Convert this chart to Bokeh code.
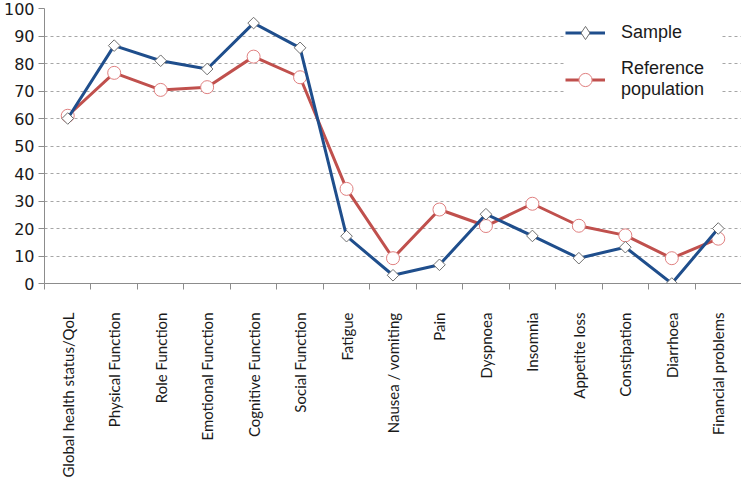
from bokeh.plotting import figure
from bokeh.models import Range1d, FixedTicker, Legend, LegendItem
from bokeh.embed import file_html
from bokeh.resources import INLINE
import math

categories = ["Global health status/QoL", "Physical Function", "Role Function",
              "Emotional Function", "Cognitive Function", "Social Function",
              "Fatigue", "Nausea / vomiting", "Pain", "Dyspnoea", "Insomnia",
              "Appetite loss", "Constipation", "Diarrhoea", "Financial problems"]
sample = [60, 86.5, 81, 78, 94.7, 85.7, 17.2, 3, 6.8, 25.2, 17.3, 9.2, 13.2, 0, 20]
reference = [61, 76.6, 70.4, 71.4, 82.5, 75, 34.4, 9.2, 26.9, 20.9, 29, 21, 17.5, 9.2, 16.3]
y_ticks = [0, 10, 20, 30, 40, 50, 60, 70, 80, 90, 100]

n = len(categories)
xs = [i + 0.5 for i in range(n)]

p = figure(width=741, height=480, output_backend="svg", toolbar_location=None,
           x_range=Range1d(0, n), y_range=Range1d(0, 100),
           min_border_left=44, min_border_right=0, min_border_top=8,
           min_border_bottom=197)
p.outline_line_color = None
p.background_fill_color = "white"

AX = "#8c8c8c"
TXT = "#1a1a1a"
# x axis
p.xaxis.ticker = FixedTicker(ticks=xs, minor_ticks=list(range(n + 1)))
p.xaxis.major_label_overrides = {x: c for x, c in zip(xs, categories)}
p.xaxis.major_label_orientation = math.pi / 2
p.xaxis.major_tick_out = 0
p.xaxis.major_tick_in = 0
p.xaxis.minor_tick_out = 6
p.xaxis.minor_tick_in = 0
p.xaxis.axis_line_color = AX
p.xaxis.minor_tick_line_color = AX
p.xaxis.major_label_text_font = "Lato"
p.xaxis.major_label_text_font_size = "15px"
p.xaxis.major_label_text_color = TXT
p.xaxis.major_label_standoff = 23

# y axis
p.yaxis.ticker = FixedTicker(ticks=y_ticks)
p.yaxis.minor_tick_line_color = None
p.yaxis.major_tick_out = 6
p.yaxis.major_tick_in = 0
p.yaxis.axis_line_color = AX
p.yaxis.major_tick_line_color = AX
p.yaxis.major_label_text_font = "DejaVu Sans"
p.yaxis.major_label_text_font_size = "16px"
p.yaxis.major_label_text_color = TXT
p.yaxis.major_label_standoff = 4

p.xgrid.grid_line_color = None
p.ygrid.ticker = FixedTicker(ticks=y_ticks[1:])
p.ygrid.grid_line_color = "#a6a6a6"
p.ygrid.grid_line_dash = "3 3"
p.ygrid.grid_line_width = 1

blue = "#1f4e8c"
red = "#c0504d"

l2 = p.line(xs, reference, line_color=red, line_width=3)
m2 = p.scatter(xs, reference, marker="circle", size=13,
               fill_color="white", line_color="#e08080", line_width=1)
l1 = p.line(xs, sample, line_color=blue, line_width=3)
m1 = p.scatter(xs, sample, marker="square", angle=math.pi / 4, size=8.2,
               fill_color="white", line_color="#6f6f6f", line_width=1)

# legend-only marker glyphs (no visible data)
nan = float("nan")
k1 = p.scatter([nan], [nan], marker="diamond", size=13,
               fill_color="white", line_color="#6f6f6f", line_width=1)
k2 = p.scatter([nan], [nan], marker="circle", size=13,
               fill_color="white", line_color="#e08080", line_width=1)

legend = Legend(items=[LegendItem(label="Sample", renderers=[l1, k1]),
                       LegendItem(label="Reference\npopulation", renderers=[l2, k2])],
                location=(521, 183))
legend.background_fill_color = "white"
legend.background_fill_alpha = 1
legend.border_line_color = None
legend.label_text_font = "Liberation Sans"
legend.label_text_font_size = "18px"
legend.label_text_color = TXT
legend.glyph_width = 40
legend.glyph_height = 33
legend.label_standoff = 16
legend.label_width = 100
legend.spacing = 9
legend.padding = 10
legend.margin = 0
p.add_layout(legend, "center")

open("out.html", "w").write(file_html(p, INLINE))
